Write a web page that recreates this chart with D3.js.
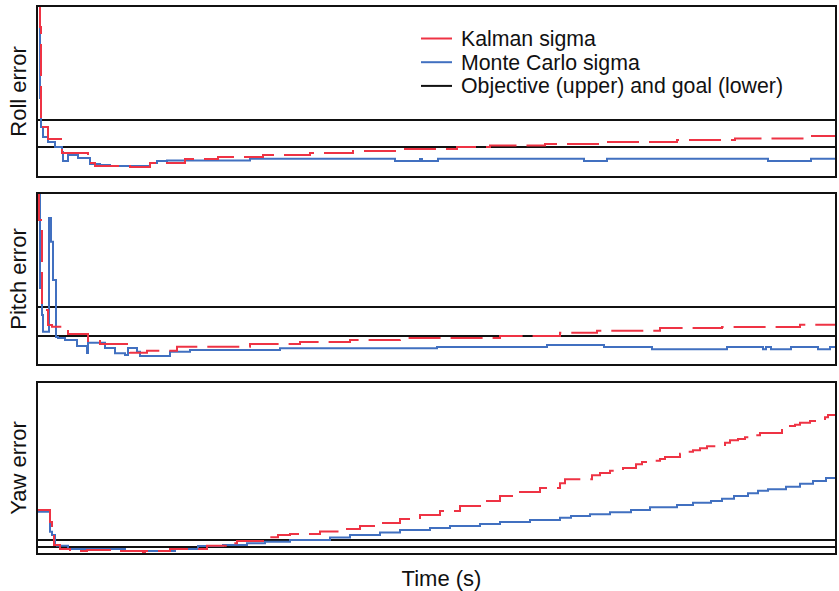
<!DOCTYPE html>
<html><head><meta charset="utf-8">
<script src="https://cdn.jsdelivr.net/npm/d3@7"></script>
<style>body{margin:0;background:#fff}svg{display:block}text{font-family:"Liberation Sans",Arial,sans-serif;fill:#111}</style>
</head><body><svg id="c" width="839" height="591"></svg>
<script>
// ---- data (time in s, error in arbitrary units) ----
const panelNames = ["Roll error", "Pitch error", "Yaw error"];
const seriesNames = ["Kalman sigma", "Monte Carlo sigma", "Objective (upper) and goal (lower)"];
const xLabel = "Time (s)";
const timeMax = 799;
const yMax = [171, 172, 172];
const objective = [57, 58, 14];
const goal = [30, 29, 7];

const rollKalman = [[0,171],[3,150],[4,59],[6,50],[11,38],[25,24],[51,14],[58,11],[93,10],[113,14],[148,18],[181,20],[226,22],[273,24],[316,26],[361,28],[420,30],[453,31.5],[508,33],[571,35],[640,37],[698,38.5],[771,41],[799,41]];
const rollMC = [[0,171],[3,79],[4,50],[6,40],[11,35],[18,30],[25,25],[26,16],[31,22],[41,19],[53,13],[63,12],[73,11],[113,14],[120,16],[130,16.5],[213,18.3],[358,16],[383,18],[385,16],[401,18.3],[547,16],[570,18.3],[731,16],[774,18.3],[799,18.3]];

const pitchKalman = [[0,172],[2,145],[5,55],[11,40],[15,38.3],[31,31],[51,24],[63,21],[93,12.3],[110,14.3],[140,18.3],[213,21],[263,23],[313,25],[363,27],[463,29],[523,32.3],[560,34.3],[623,37],[685,38],[763,40.3],[799,40.3]];
const pitchMC = [[0,172],[3,77],[5,50],[6,33.3],[12,147],[14,123.3],[16,85],[19,28],[21,27],[28,25],[40,19],[50,12],[51,22.3],[68,17],[78,11.7],[88,10],[91,17],[100,13.3],[103,9],[133,13.3],[153,15],[243,16.7],[400,18],[510,20],[567,18],[615,15.7],[690,18],[726,15.7],[729,18],[734,15.7],[754,18],[781,15.7],[793,18],[799,18]];

const yawKalman = [[0,44],[13,32],[15,21],[17,9],[23,5],[33,3],[50,4],[73,3],[106,1],[108,3],[133,5],[170,8.3],[193,10.7],[200,13],[231,16.7],[241,19],[253,20],[283,22.5],[303,25],[323,28],[343,31],[363,35],[383,39],[403,43],[423,48],[443,53],[463,58],[483,62],[503,66],[523,70.7],[528,74.7],[555,78.7],[563,81],[573,83.3],[586,86],[599,89.7],[605,92],[613,93.3],[623,95],[628,97],[643,100.3],[647,102.3],[656,103.7],[663,105.7],[670,107.7],[688,111.3],[693,113.7],[701,115],[708,116.7],[715,118.7],[723,121],[745,126],[751,128],[758,129.3],[763,131.3],[773,133],[788,136.7],[791,139],[799,139]];
const yawMC = [[0,42.3],[13,22.3],[15,19],[18,9],[20,8.3],[31,5],[88,3],[138,5],[161,8],[186,9],[210,10.7],[228,12.3],[253,14],[293,16.5],[313,19],[343,21.5],[363,24],[393,26],[413,28],[443,30],[463,32],[493,34],[523,36.3],[534,38],[553,39.7],[573,41.7],[594,44],[613,46.7],[640,49],[656,51.3],[674,53],[685,55.3],[697,58],[711,60.7],[721,63.3],[731,64.7],[749,67.3],[763,70.3],[776,73],[789,76],[799,76]];

const kalman = [rollKalman, pitchKalman, yawKalman];
const monteCarlo = [rollMC, pitchMC, yawMC];

// ---- layout ----
const svg = d3.select("#c");
const left = 37, right = 836;
const tops = [6, 193, 382], bottoms = [177, 365, 554];
const RED = "#ee3344", BLUE = "#4170c0", BLACK = "#111";

const x = d3.scaleLinear().domain([0, timeMax]).range([left, right]);

panelNames.forEach((name, i) => {
  const y = d3.scaleLinear().domain([0, yMax[i]]).range([bottoms[i], tops[i]]);
  const g = svg.append("g");
  const clipId = "clip" + i;
  svg.append("clipPath").attr("id", clipId).append("rect")
    .attr("x", left).attr("y", tops[i]).attr("width", right - left).attr("height", bottoms[i] - tops[i]);
  const line = d3.line().x(d => x(d[0])).y(d => y(d[1])).curve(d3.curveStepAfter);
  const inner = g.append("g").attr("clip-path", `url(#${clipId})`);
  [objective[i], goal[i]].forEach(v => {
    inner.append("line").attr("x1", left).attr("x2", right)
      .attr("y1", y(v)).attr("y2", y(v)).attr("stroke", BLACK).attr("stroke-width", 2);
  });
  inner.append("path").attr("d", line(monteCarlo[i])).attr("fill", "none")
    .attr("stroke", BLUE).attr("stroke-width", 2);
  inner.append("path").attr("d", line(kalman[i])).attr("fill", "none")
    .attr("stroke", RED).attr("stroke-width", 2).attr("stroke-dasharray", "32,10");
  g.append("rect").attr("x", left).attr("y", tops[i]).attr("width", right - left)
    .attr("height", bottoms[i] - tops[i]).attr("fill", "none").attr("stroke", BLACK).attr("stroke-width", 2);
  g.append("text").attr("transform", `translate(26,${(tops[i] + bottoms[i]) / 2}) rotate(-90)`)
    .attr("text-anchor", "middle").attr("font-size", 22).text(name);
});

svg.append("text").attr("x", (left + right) / 2 + 5).attr("y", 586).attr("text-anchor", "middle")
  .attr("font-size", 22).text(xLabel);

// legend
const legColors = [RED, BLUE, BLACK];
const leg = svg.append("g");
seriesNames.forEach((s, k) => {
  const yy = 38.5 + k * 23.7;
  leg.append("line").attr("x1", 421).attr("x2", 452).attr("y1", yy).attr("y2", yy)
    .attr("stroke", legColors[k]).attr("stroke-width", 2);
  leg.append("text").attr("x", 461).attr("y", yy + 7.5).attr("font-size", 21.3).text(s);
});
</script></body></html>
